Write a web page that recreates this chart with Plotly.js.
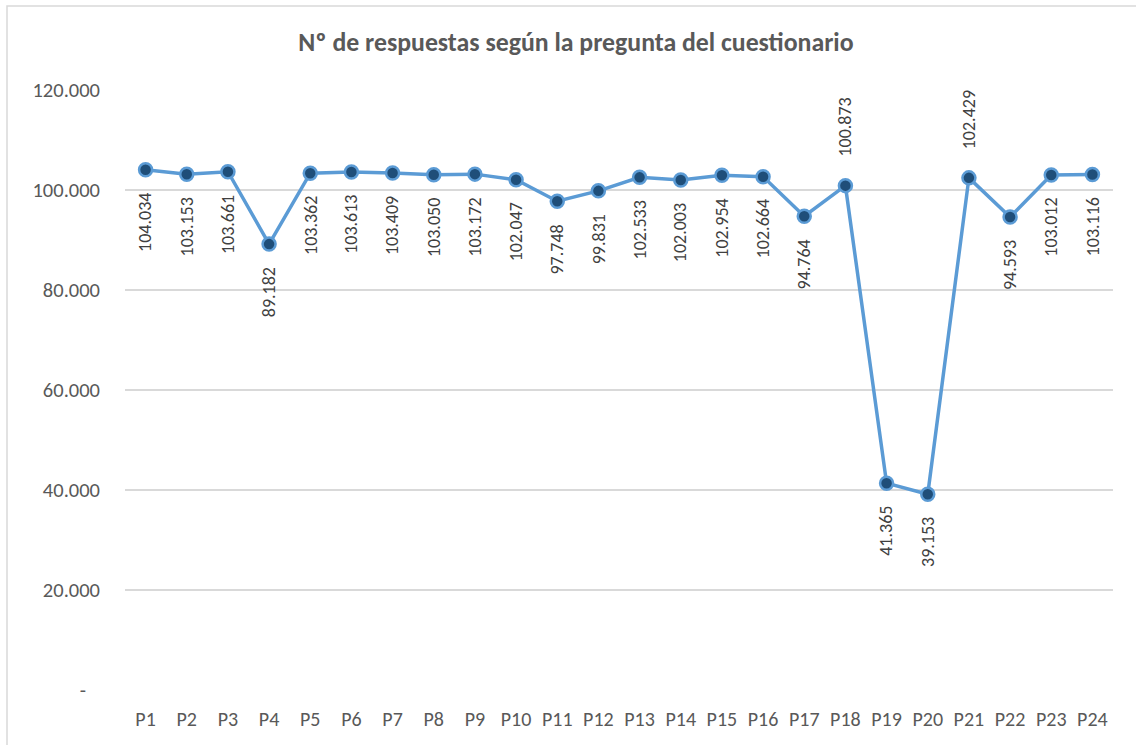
<!DOCTYPE html>
<html>
<head>
<meta charset="utf-8">
<script src="https://cdn.plot.ly/plotly-3.0.1.min.js"></script>
<style>
  html, body { margin: 0; padding: 0; background: #fff; }
  #chart { width: 1136px; height: 745px; }
</style>
</head>
<body>
<div id="chart"></div>
<script>
const categories = ["P1","P2","P3","P4","P5","P6","P7","P8","P9","P10","P11","P12","P13","P14","P15","P16","P17","P18","P19","P20","P21","P22","P23","P24"];
const respuestas = [104034,103153,103661,89182,103362,103613,103409,103050,103172,102047,97748,99831,102533,102003,102954,102664,94764,100873,41365,39153,102429,94593,103012,103116];
const yTickVals = [0,20000,40000,60000,80000,100000,120000];
const yTickText = ["-\u00a0\u00a0\u00a0","20.000","40.000","60.000","80.000","100.000","120.000"];
const labelsAbove = ["P18","P21"];

function fmt(v){ return String(v).replace(/\B(?=(\d{3})+(?!\d))/g, "."); }

const FONT = "Carlito, Calibri, Lato, 'Liberation Sans', sans-serif";
const TXT = "#595959";

const annotations = categories.map((c, i) => {
  const above = labelsAbove.includes(c);
  return {
    x: c, y: respuestas[i], xref: "x", yref: "y",
    text: fmt(respuestas[i]), showarrow: false, textangle: -90,
    xanchor: "center", yanchor: above ? "bottom" : "top",
    yshift: above ? 27 : -21,
    font: {family: FONT, size: 18, color: "#404040"}
  };
});

const trace = {
  x: categories, y: respuestas, type: "scatter", mode: "lines+markers",
  line: {color: "#5B9BD5", width: 3.5},
  marker: {color: "#1F4E79", size: 13, line: {color: "#5B9BD5", width: 2.5}},
  hoverinfo: "x+y"
};

const layout = {
  width: 1136, height: 745,
  margin: {l: 125, r: 23, t: 90, b: 55},
  paper_bgcolor: "#fff", plot_bgcolor: "#fff",
  showlegend: false,
  title: {text: "<b>Nº de respuestas según la pregunta del cuestionario</b>",
          x: 0.507, xanchor: "center", y: 0.943, yanchor: "middle",
          font: {family: FONT, size: 25.8, color: TXT}},
  xaxis: {type: "category", range: [-0.5, 23.5], showgrid: false, zeroline: false, showline: false,
          ticks: "", tickfont: {family: FONT, size: 20, color: TXT},
          ticklabelstandoff: 15, fixedrange: true},
  yaxis: {range: [0, 120000], tickvals: yTickVals, ticktext: yTickText,
          showgrid: true, gridcolor: "#D9D9D9", gridwidth: 1.5, zeroline: false,
          showline: false, ticks: "", tickfont: {family: FONT, size: 20.5, color: TXT},
          ticklabelstandoff: 24, fixedrange: true},
  annotations: annotations,
  shapes: [{type: "rect", xref: "paper", yref: "paper",
            x0: (7 - 125) / 988, x1: 2, y0: -1, y1: (690 - 6) / 600,
            line: {color: "#D9D9D9", width: 1.5}, fillcolor: "rgba(0,0,0,0)", layer: "below"}]
};

Plotly.newPlot("chart", [trace], layout, {displayModeBar: false, staticPlot: true});
</script>
</body>
</html>
